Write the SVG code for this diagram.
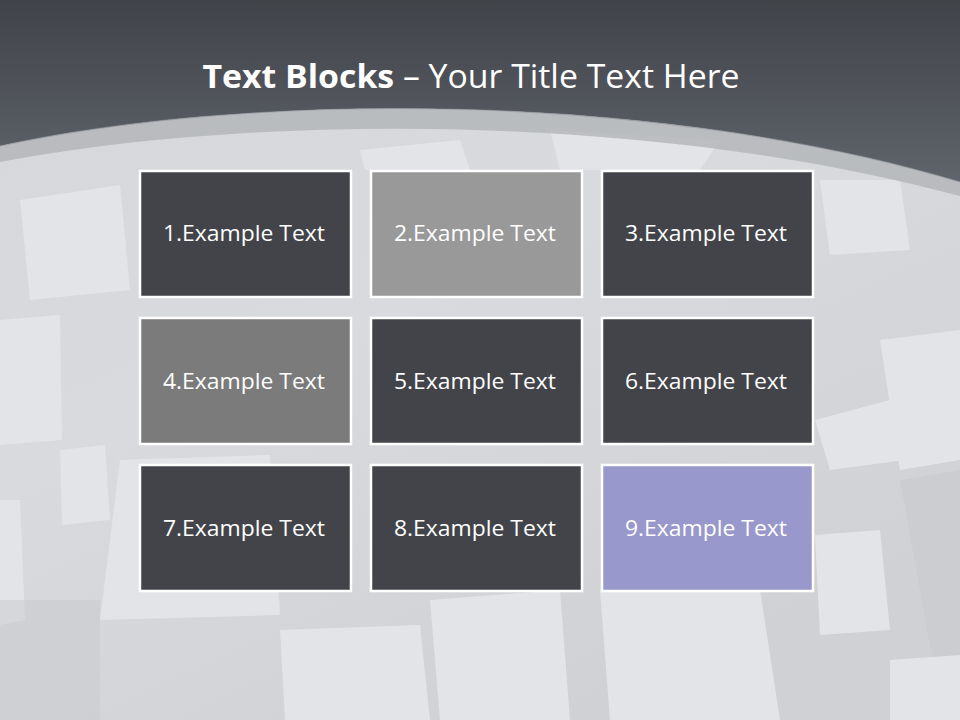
<svg xmlns="http://www.w3.org/2000/svg" width="960" height="720" viewBox="0 0 960 720">
<defs>
<linearGradient id="top" gradientUnits="userSpaceOnUse" x1="0" y1="0" x2="0" y2="190">
<stop offset="0" stop-color="#404348"/>
<stop offset="1" stop-color="#61656d"/>
</linearGradient>
<linearGradient id="floor" x1="0" y1="0" x2="0.6" y2="1">
<stop offset="0" stop-color="#d6d7db"/>
<stop offset="0.5" stop-color="#d9dadd"/>
<stop offset="1" stop-color="#d0d1d5"/>
</linearGradient>
<clipPath id="arcClip"><path d="M0,146 C250,92 650,90 960,182 L960,720 L0,720 Z"/></clipPath>
</defs>
<style>
.box{stroke:#ffffff;stroke-width:2.5}
.dark{fill:#424449}
.lbl{font-family:"Open Sans","Liberation Sans",sans-serif;font-size:22px;fill:#ffffff;text-anchor:middle}
.title{font-family:"Open Sans","Liberation Sans",sans-serif;font-size:33px;fill:#ffffff}
.sq{fill:#e3e4e8}
.sq2{fill:#c8c9cd}
</style>
<rect x="0" y="0" width="960" height="720" fill="url(#top)"/>
<g clip-path="url(#arcClip)">
<rect x="0" y="0" width="960" height="720" fill="url(#floor)"/>
<polygon class="sq" points="20,200 120,185 130,290 30,300"/>
<polygon class="sq" points="0,320 60,315 62,440 0,445"/>
<polygon class="sq" points="60,450 105,445 110,520 62,525"/>
<polygon class="sq" points="120,460 270,455 280,615 100,620"/>
<polygon class="sq" points="0,500 20,500 25,620 0,625"/>
<polygon class="sq" points="280,630 420,625 430,720 285,720"/>
<polygon class="sq2" points="0,600 100,600 100,720 0,720" opacity="0.5"/>
<polygon class="sq" points="430,600 560,590 570,720 440,720"/>
<polygon class="sq" points="600,590 760,590 780,720 610,720"/>
<polygon class="sq" points="815,420 890,400 905,460 830,470"/>
<polygon class="sq" points="815,535 880,530 890,630 820,635"/>
<polygon class="sq" points="880,340 960,330 960,460 900,470"/>
<polygon class="sq" points="820,180 900,180 910,250 830,255"/>
<polygon class="sq2" points="900,480 960,470 960,700 940,700" opacity="0.6"/>
<polygon class="sq" points="890,660 960,655 960,720 890,720"/>
<polygon class="sq" points="360,150 460,140 470,170 365,170"/>
<polygon class="sq" points="550,130 720,140 700,170 560,170"/>
</g>
<path d="M0,146 C250,92 650,90 960,182 L960,196 C650,112 250,114 0,162 Z" fill="#b2b4b8" opacity="0.8"/>
<path d="M0,146 C250,92 650,90 960,182" fill="none" stroke="#8e9196" stroke-width="1.2" opacity="0.6"/>
<text class="title" x="471" y="88" text-anchor="middle" textLength="537" lengthAdjust="spacingAndGlyphs"><tspan font-weight="bold">Text Blocks</tspan> – Your Title Text Here</text>
<g id="connectors"></g>
<g id="node1"><rect class="box dark" x="140" y="171" width="211" height="126"/><text class="lbl" x="244" y="241" textLength="162" lengthAdjust="spacingAndGlyphs">1.Example Text</text></g>
<g id="node2"><rect class="box" fill="#999999" x="371" y="171" width="211" height="126"/><text class="lbl" x="475" y="241" textLength="162" lengthAdjust="spacingAndGlyphs">2.Example Text</text></g>
<g id="node3"><rect class="box dark" x="602" y="171" width="211" height="126"/><text class="lbl" x="706" y="241" textLength="162" lengthAdjust="spacingAndGlyphs">3.Example Text</text></g>
<g id="node4"><rect class="box" fill="#7b7b7b" x="140" y="318" width="211" height="126"/><text class="lbl" x="244" y="389" textLength="162" lengthAdjust="spacingAndGlyphs">4.Example Text</text></g>
<g id="node5"><rect class="box dark" x="371" y="318" width="211" height="126"/><text class="lbl" x="475" y="389" textLength="162" lengthAdjust="spacingAndGlyphs">5.Example Text</text></g>
<g id="node6"><rect class="box dark" x="602" y="318" width="211" height="126"/><text class="lbl" x="706" y="389" textLength="162" lengthAdjust="spacingAndGlyphs">6.Example Text</text></g>
<g id="node7"><rect class="box dark" x="140" y="465" width="211" height="126"/><text class="lbl" x="244" y="536" textLength="162" lengthAdjust="spacingAndGlyphs">7.Example Text</text></g>
<g id="node8"><rect class="box dark" x="371" y="465" width="211" height="126"/><text class="lbl" x="475" y="536" textLength="162" lengthAdjust="spacingAndGlyphs">8.Example Text</text></g>
<g id="node9"><rect class="box" fill="#9898cc" x="602" y="465" width="211" height="126"/><text class="lbl" x="706" y="536" textLength="162" lengthAdjust="spacingAndGlyphs">9.Example Text</text></g>
</svg>
